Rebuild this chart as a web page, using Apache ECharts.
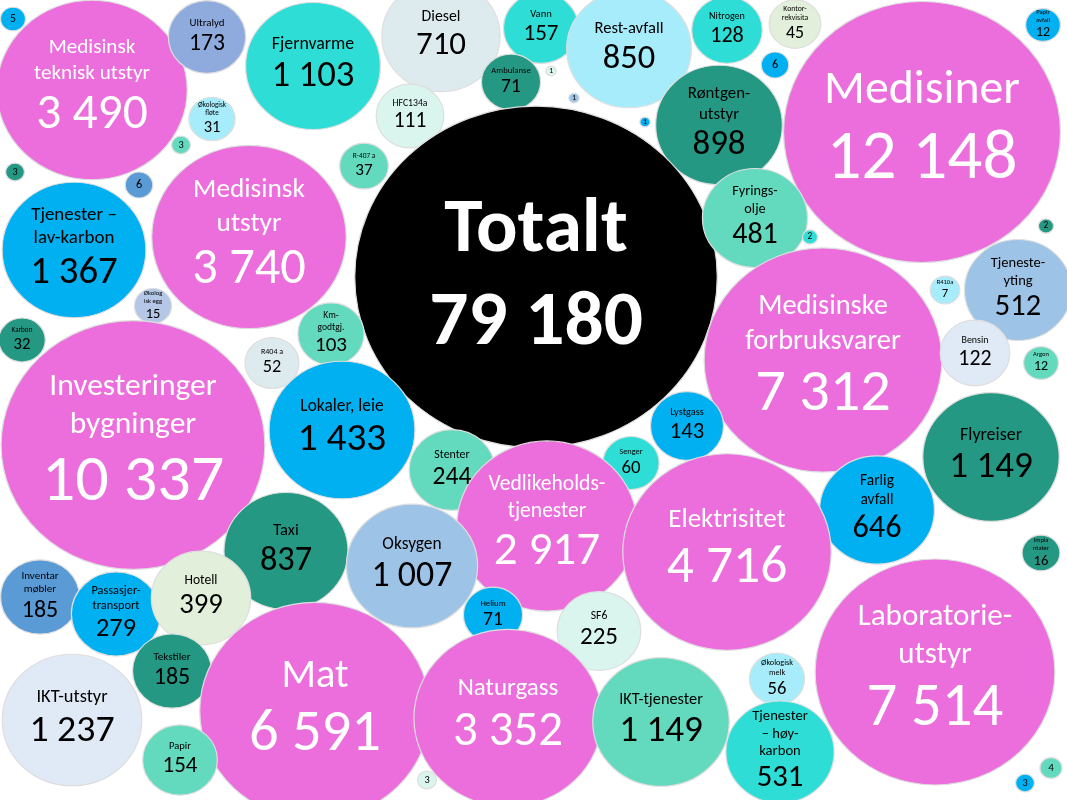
<!DOCTYPE html>
<html><head><meta charset="utf-8">
<script src="https://cdn.jsdelivr.net/npm/echarts@6.0.0/dist/echarts.min.js"></script>
<style>html,body{margin:0;padding:0;background:#fff}#c{width:1067px;height:800px}</style>
</head><body><div id="c"></div>
<script>
// Bubble names (labels), values, bubble-chart X/Y data columns and category group codes
const names = [
  '', 'Medisinsk\nteknisk utstyr', 'Ultralyd', 'Fjernvarme', 'Diesel', 'Vann', 'Rest-avfall', 'Nitrogen',
  'Kontor-\nrekvisita', 'Papir\navfall', 'Medisiner', 'Ambulanse', '', '', '', '',
  'Røntgen-\nutstyr', 'Økologisk\nfløte', 'HFC134a', '', '', 'R-407 a', 'Medisinsk\nutstyr',
  'Tjenester –\nlav-karbon', '', 'Totalt', 'Fyrings-\nolje', '', '', 'Tjeneste-\nyting', 'R410a',
  'Økolog\nisk egg', 'Karbon', 'Km-\ngodtgj.', 'R404 a', 'Medisinske\nforbruksvarer', 'Bensin', 'Argon',
  'Investeringer\nbygninger', 'Lokaler, leie', 'Lystgass', 'Senger', 'Stenter', 'Flyreiser',
  'Vedlikeholds-\ntjenester', 'Farlig\navfall', 'Elektrisitet', 'Taxi', 'Oksygen', 'Impla\nntater',
  'Inventar\nmøbler', 'Passasjer-\ntransport', 'Hotell', 'Helium', 'SF6', 'Laboratorie-\nutstyr',
  'Tekstiler', 'IKT-utstyr', 'Mat', 'Naturgass', 'IKT-tjenester', 'Økologisk\nmelk',
  'Tjenester\n– høy-\nkarbon', 'Papir', '', '', ''
];
const values = [
  5, 3490, 173, 1103, 710, 157, 850, 128,
  45, 12, 12148, 71, 1, 1, 1, 6,
  898, 31, 111, 3, 3, 37, 3740,
  1367, 6, 79180, 481, 2, 2, 512, 7,
  15, 32, 103, 52, 7312, 122, 12,
  10337, 1433, 143, 60, 244, 1149,
  2917, 646, 4716, 837, 1007, 16,
  185, 279, 399, 71, 225, 7514,
  185, 1237, 6591, 3352, 1149, 56,
  531, 154, 3, 3, 4
];
const xs = [
  13, 92, 207, 313, 441, 541, 629, 727,
  795, 1043, 922, 511, 551, 574, 645, 775,
  719, 212, 410, 181, 15, 364, 249,
  74, 139, 536, 755, 810, 1046, 1018, 945,
  153, 22, 331, 272, 823, 975, 1041,
  133, 342, 687, 631, 452, 991,
  547, 877, 727, 286, 412, 1041,
  40, 116, 201, 493, 599, 935,
  172, 72, 315, 508, 661, 777,
  780, 180, 427, 1025, 1051
];
const ys = [
  19, 90, 37, 66, 36, 28, 49, 30,
  24, 25, 132, 82, 71, 98, 122, 65,
  125, 119, 116, 145, 172, 166, 237,
  250, 185, 277, 218, 237, 226, 290, 290,
  306, 340, 334, 363, 360, 353, 363,
  445, 430, 426, 463, 470, 457,
  526, 510, 552, 551, 566, 553,
  597, 614, 598, 615, 631, 672,
  671, 720, 711, 718, 722, 679,
  752, 760, 780, 783, 768
];
const groups = [
  'B','M','S','T','P','T','L','T',
  'N','B','M','D','W','Q','B','B',
  'D','L','W','G','D','G','M',
  'B','R','K','G','T','D','Q','L',
  'E','D','G','P','M','I','G',
  'M','B','B','T','G','D',
  'M','B','M','D','Q','D',
  'R','B','N','B','W','M',
  'D','I','M','M','G','L',
  'T','G','W','B','G'
];

const palette = {
  M:'#EC6EDC', K:'#000000', T:'#2EDED6', B:'#00B0F0', D:'#259884', G:'#63D9BD',
  L:'#A7ECFA', P:'#DDEBEF', W:'#DAF5EE', I:'#DFEAF6', S:'#8FAADC', Q:'#9DC3E6',
  E:'#B4C7E7', N:'#E2EFDA', R:'#5B9BD5'
};
const FONT = 'Carlito, Lato, "Noto Sans", sans-serif';
const ASPECT = 1.03; // bubbles drawn slightly wider than tall, as in the source

function radius(v) {
  return Math.min(176, 5 * Math.pow(v, 0.55), 8.0 * Math.pow(v, 0.3));
}
function fmt(v) {
  return String(v).replace(/\B(?=(\d{3})+(?!\d))/g, ' ');
}

const data = values.map((v, i) => {
  const r = radius(v);
  const g = groups[i];
  const white = (g === 'M' || g === 'K');
  const isTotal = g === 'K';
  const lines = names[i] ? names[i].split('\n') : [];
  const maxLen = lines.reduce((m, s) => Math.max(m, s.length), 1);
  const fsV = isTotal ? 0.44 * r : 0.47 * r + 6;
  const fsN = isTotal ? fsV : Math.max(6.5, Math.min(0.25 * r + 1.5 + 0.5 * Math.max(0, r - 90), 3.2 * r / maxLen));
  const col = white ? '#ffffff' : '#000000';
  const weight = isTotal ? 'bold' : 'normal';
  const nameTxt = lines.map(s => '{n|' + s + '}').join('\n');
  const txt = (lines.length ? nameTxt + '\n' : '') + '{v|' + fmt(v) + '}';
  return {
    value: [xs[i], ys[i], v],
    symbolSize: [2 * r * ASPECT, 2 * r / ASPECT],
    itemStyle: { color: palette[g], opacity: 1, borderColor: '#dedede', borderWidth: 1.2 },
    label: {
      show: true,
      position: 'inside',
      formatter: txt,
      rich: {
        n: { fontSize: fsN, lineHeight: fsN * 1.22, color: col, fontFamily: FONT, fontWeight: weight, align: 'center' },
        v: { fontSize: fsV, lineHeight: fsV * 1.18, color: col, fontFamily: FONT, fontWeight: weight, align: 'center' }
      }
    }
  };
});

const chart = echarts.init(document.getElementById('c'));
chart.setOption({
  animation: false,
  backgroundColor: '#ffffff',
  grid: { left: 0, right: 0, top: 0, bottom: 0 },
  xAxis: { type: 'value', min: 0, max: 1067, show: false },
  yAxis: { type: 'value', min: 0, max: 800, inverse: true, show: false },
  series: [{
    type: 'scatter',
    symbol: 'circle',
    data: data,
    emphasis: { disabled: true }
  }]
});
</script>
</body></html>
